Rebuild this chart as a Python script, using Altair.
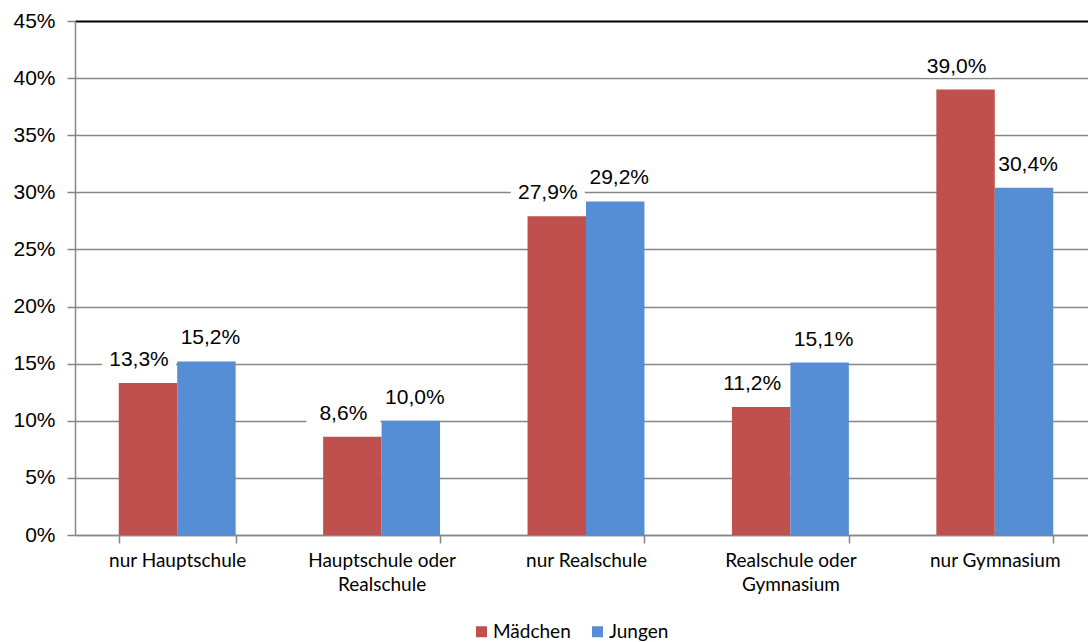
import altair as alt
import pandas as pd

# Schulempfehlung nach Geschlecht (Anteile in %)
categories = [
    "nur Hauptschule",
    "Hauptschule oder\nRealschule",
    "nur Realschule",
    "Realschule oder\nGymnasium",
    "nur Gymnasium",
]
series = ["Mädchen", "Jungen"]
maedchen = [13.3, 8.6, 27.9, 11.2, 39.0]
jungen = [15.2, 10.0, 29.2, 15.1, 30.4]
y_ticks = [0, 5, 10, 15, 20, 25, 30, 35, 40, 45]

rows = []
for cat, m, j in zip(categories, maedchen, jungen):
    rows.append({"kategorie": cat, "gruppe": "Mädchen", "wert": m})
    rows.append({"kategorie": cat, "gruppe": "Jungen", "wert": j})
df = pd.DataFrame(rows)
df["label"] = df["wert"].map(lambda v: f"{v:.1f}".replace(".", ",") + "%")

RED = "#C0504D"
BLUE = "#558ED5"
GRID = "#868686"
NUM_FONT = "Liberation Sans"
CAT_FONT = "Lato"

x_enc = alt.X(
    "kategorie:N",
    sort=categories,
    # the category axis runs a little past the right edge of the view
    scale=alt.Scale(paddingInner=0.428, paddingOuter=0.214, range=[0, 1022]),
    axis=alt.Axis(
        title=None,
        labelAngle=0,
        labelExpr="split(datum.label, '\\n')",
        labelFont=CAT_FONT,
        labelFontSize=19,
        labelColor="#000000",
        labelPadding=8,
        labelLineHeight=24,
        tickBand="extent",
        tickSize=8,
        tickColor=GRID,
        tickWidth=1.5,
        domainColor=GRID,
        domainWidth=1.5,
        grid=False,
    ),
)
y_enc = alt.Y(
    "wert:Q",
    scale=alt.Scale(domain=[0, 45], nice=False),
    axis=alt.Axis(
        title=None,
        values=y_ticks,
        labelExpr="datum.value + '%'",
        labelFont=NUM_FONT,
        labelFontSize=21,
        labelColor="#000000",
        labelPadding=12,
        tickSize=8,
        tickColor=GRID,
        tickWidth=1.5,
        domainColor=GRID,
        domainWidth=1.5,
        grid=True,
        gridColor={"expr": "datum.value == 45 ? '#000000' : '#868686'"},
        gridWidth={"expr": "datum.value == 45 ? 2 : 1.5"},
    ),
)
color_enc = alt.Color(
    "gruppe:N",
    sort=series,
    scale=alt.Scale(domain=series, range=[RED, BLUE]),
    legend=alt.Legend(
        title=None,
        orient="none",
        direction="horizontal",
        legendX=397,
        legendY=601,
        symbolType="square",
        symbolSize=121,
        symbolStrokeWidth=0,
        labelFont=CAT_FONT,
        labelFontSize=19,
        labelColor="#000000",
        columnPadding=17,
        labelOffset=2,
    ),
)
x_off = alt.XOffset("gruppe:N", sort=series)

base = alt.Chart(df).encode(x=x_enc, xOffset=x_off)

bars = base.mark_bar(stroke=None).encode(y=y_enc, color=color_enc)


def box_path(shift):
    # rectangle in symbol units (1 unit = 20 px at size 1600), shifted sideways
    left, right = -1.85 + shift, 1.85 + shift
    return f"M{left},-0.55L{right},-0.55L{right},0.55L{left},0.55Z"


# value labels sit on white boxes that hide the gridlines; the two series'
# labels are nudged apart so neighbouring labels do not touch
box_layers = []
text_layers = []
for name, nudge in (("Mädchen", -9), ("Jungen", 4)):
    part = base.transform_filter(alt.datum.gruppe == name)
    box_layers.append(
        part.mark_point(
            shape=box_path(nudge / 20),
            size=1600,
            filled=True,
            fill="white",
            opacity=1,
            strokeWidth=0,
            yOffset=-23,
        ).encode(y=alt.Y("wert:Q"))
    )
    text_layers.append(
        part.mark_text(
            font=NUM_FONT,
            fontSize=21,
            color="#000000",
            baseline="middle",
            align="center",
            dx=nudge,
            dy=-23,
        ).encode(y=alt.Y("wert:Q"), text="label:N")
    )

chart = (
    alt.layer(*box_layers, bars, *text_layers)
    .properties(
        width=1013,
        height=514,
        padding={"left": 75, "top": 21, "right": 0, "bottom": 107},
        autosize=alt.AutoSizeParams(type="none"),
    )
    .configure_view(stroke=None)
    .configure(background="white")
)

chart.save("out.html", embed_options={"renderer": "svg", "actions": False})
